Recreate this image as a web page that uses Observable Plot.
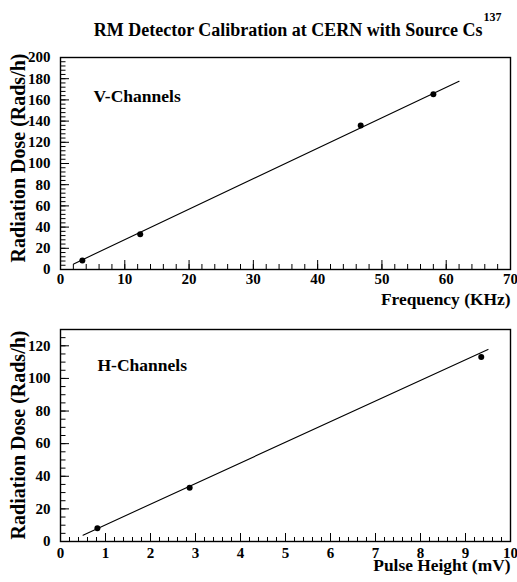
<!DOCTYPE html>
<html><head><meta charset="utf-8">
<script src="https://cdn.jsdelivr.net/npm/d3@7"></script>
<script src="https://cdn.jsdelivr.net/npm/@observablehq/plot@0.6"></script>
<style>
html,body{margin:0;padding:0;background:#fff;}
#chart{position:relative;width:517px;height:582px;overflow:hidden;background:#fff;}
#chart svg{position:absolute;left:0;}
</style></head><body><div id="chart"></div>
<script>
// ---- text ----
const titleMain = ["RM Detector Calibration at CERN with Source Cs"];
const titleSup = ["137"];
const yLabel = ["Radiation Dose (Rads/h)"];
const vLabel = ["V-Channels"];
const hLabel = ["H-Channels"];
const vXLabel = ["Frequency (KHz)"];
const hXLabel = ["Pulse Height (mV)"];

// ---- V-Channels data ----
const vFreq = [3.4, 12.4, 46.7, 58.0];
const vDose = [8.5, 33.3, 135.8, 165.4];
const vFitX = [2.05, 62.0];
const vFitY = [5.3, 177.6];
const vXTicks = [0, 10, 20, 30, 40, 50, 60, 70];
const vYTicks = [0, 20, 40, 60, 80, 100, 120, 140, 160, 180, 200];

// ---- H-Channels data ----
const hPulse = [0.82, 2.87, 9.35];
const hDose = [8.2, 32.9, 113.2];
const hFitX = [0.5, 9.5];
const hFitY = [3.9, 117.8];
const hXTicks = [0, 1, 2, 3, 4, 5, 6, 7, 8, 9, 10];
const hYTicks = [0, 20, 40, 60, 80, 100, 120];

const FONT = "'Liberation Serif', 'Times New Roman', serif";
const txt = (size) => ({fontFamily: FONT, fontWeight: "bold", fontSize: size, fill: "black"});

function panel({height, marginTop, marginBottom, xDomain, yDomain, xTicks, yTicks, xMinor, yMinor,
                xMajLen, xMinLen, yMajLen, yMinLen, xPad, pts, fit, chanLabel, chanDx, chanDy,
                xLab, xLabDy, yLabDy, extra}) {
  const points = pts[0].map((x, i) => ({x, y: pts[1][i]}));
  const line = fit[0].map((x, i) => ({x, y: fit[1][i]}));
  return Plot.plot({
    width: 517, height, marginLeft: 60, marginRight: 7, marginTop, marginBottom,
    style: {background: "white", overflow: "visible"},
    x: {domain: xDomain, axis: null},
    y: {domain: yDomain, axis: null},
    marks: [
      Plot.axisX(xMinor, {anchor: "bottom", tickSize: xMinLen, dy: -xMinLen, fill: "none", label: null, stroke: "black"}),
      Plot.axisX(xTicks, {anchor: "bottom", tickSize: xMajLen, dy: -xMajLen, fill: "none", label: null, stroke: "black"}),
      Plot.axisY(yMinor, {anchor: "left", tickSize: yMinLen, dx: yMinLen, fill: "none", label: null, stroke: "black"}),
      Plot.axisY(yTicks, {anchor: "left", tickSize: yMajLen, dx: yMajLen, fill: "none", label: null, stroke: "black"}),
      Plot.text(xTicks, {x: d => d, text: d => String(d), frameAnchor: "bottom", textAnchor: "middle", lineAnchor: "top", dy: xPad, ...txt(15)}),
      Plot.text(yTicks, {y: d => d, text: d => String(d), frameAnchor: "left", textAnchor: "end", lineAnchor: "middle", dx: -10, ...txt(15)}),
      Plot.frame({stroke: "black", strokeWidth: 1.4}),
      Plot.line(line, {x: "x", y: "y", stroke: "black", strokeWidth: 1.1}),
      Plot.dot(points, {x: "x", y: "y", r: 3, fill: "black", stroke: "none"}),
      Plot.text(chanLabel, {text: d => d, frameAnchor: "top-left", textAnchor: "start", lineAnchor: "bottom", dx: chanDx, dy: chanDy, ...txt(17.5)}),
      Plot.text(xLab, {text: d => d, frameAnchor: "bottom-right", textAnchor: "end", lineAnchor: "bottom", dy: xLabDy, ...txt(17.4)}),
      Plot.text(yLabel, {text: d => d, frameAnchor: "top-left", textAnchor: "end", lineAnchor: "middle", rotate: -90, dx: -42, dy: yLabDy, ...txt(20)}),
      ...(extra || [])
    ]
  });
}

const chartEl = document.getElementById("chart");

const topPanel = panel({
  height: 310, marginTop: 57, marginBottom: 41,
  xDomain: [0, 70], yDomain: [0, 200],
  xTicks: vXTicks, yTicks: vYTicks,
  xMinor: d3.range(0, 70.001, 2), yMinor: d3.range(0, 200.001, 4),
  xMajLen: 9, xMinLen: 5, yMajLen: 9, yMinLen: 5.5, xPad: 3.5,
  pts: [vFreq, vDose], fit: [vFitX, vFitY],
  chanLabel: vLabel, chanDx: 33, chanDy: 44.5,
  xLab: vXLabel, xLabDy: 35, yLabDy: -4,
  extra: [
    Plot.text(titleMain, {text: d => d, frameAnchor: "top-left", textAnchor: "end", lineAnchor: "bottom", dx: 422, dy: -22, ...txt(18)}),
    Plot.text(titleSup, {text: d => d, frameAnchor: "top-left", textAnchor: "start", lineAnchor: "bottom", dx: 423, dy: -37, ...txt(12)})
  ]
});
topPanel.style.top = "0px";
chartEl.appendChild(topPanel);

const bottomPanel = panel({
  height: 272, marginTop: 19, marginBottom: 41,
  xDomain: [0, 10], yDomain: [0, 130],
  xTicks: hXTicks, yTicks: hYTicks,
  xMinor: d3.range(0, 10.001, 0.2), yMinor: d3.range(0, 130.001, 5),
  xMajLen: 8, xMinLen: 4, yMajLen: 9, yMinLen: 5.5, xPad: 5.5,
  pts: [hPulse, hDose], fit: [hFitX, hFitY],
  chanLabel: hLabel, chanDx: 37, chanDy: 41,
  xLab: hXLabel, xLabDy: 29.3, yLabDy: 1
});
bottomPanel.style.top = "310px";
chartEl.appendChild(bottomPanel);
</script></body></html>
